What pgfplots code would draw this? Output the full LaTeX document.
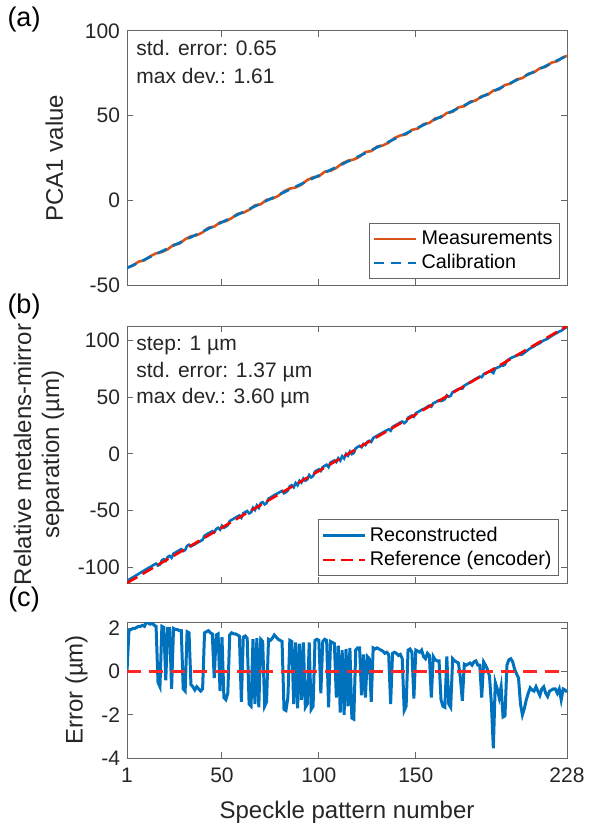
\documentclass[border=0pt]{standalone}
\usepackage{pgfplots}
\pgfplotsset{compat=1.18}
\usepackage{pgfplotstable}
\usepackage{fontspec}
\setmainfont{Liberation Sans}
\definecolor{mblue}{rgb}{0,0.447,0.741}
\definecolor{morange}{rgb}{0.85,0.325,0.098}
\definecolor{axgray}{gray}{0.15}

\pgfplotstableread{
n ref err
1 -114 0.0
2 -113 1.9
3 -112 1.95
4 -111 2.0
5 -110 2.0
6 -109 2.05
7 -108 2.1
8 -107 2.1
9 -106 2.15
10 -105 2.1
11 -104 2.3
12 -103 2.25
13 -102 2.2
14 -101 2.25
15 -100 2.15
16 -99 2.1
17 -98 -0.5
18 -97 -0.7
19 -96 2.1
20 -95 2.05
21 -94 -0.4
22 -93 2.0
23 -92 2.0
24 -91 -0.8
25 -90 2.0
26 -89 1.95
27 -88 1.95
28 -87 1.9
29 -86 1.9
30 -85 -0.8
31 -84 -0.9
32 -83 1.85
33 -82 1.8
34 -81 -0.6
35 -80 -0.7
36 -79 -0.85
37 -78 -0.7
38 -77 -0.8
39 -76 -0.9
40 -75 -0.8
41 -74 1.8
42 -73 1.85
43 -72 1.9
44 -71 1.8
45 -70 1.75
46 -69 -0.3
47 -68 1.7
48 -67 1.75
49 -66 -0.9
50 -65 1.6
51 -64 -1.2
52 -63 -1.3
53 -62 -1.0
54 -61 1.7
55 -60 1.8
56 -59 1.75
57 -58 1.75
58 -57 1.7
59 -56 1.65
60 -55 -1.4
61 -54 1.6
62 -53 1.65
63 -52 1.55
64 -51 -1.5
65 -50 -1.6
66 -49 1.5
67 -48 -1.5
68 -47 1.55
69 -46 -1.65
70 -45 1.5
71 -44 1.4
72 -43 -1.6
73 -42 -1.4
74 -41 1.5
75 -40 1.45
76 -39 1.55
77 -38 1.7
78 -37 1.6
79 -36 1.5
80 -35 1.45
81 -34 1.4
82 -33 -1.75
83 -32 -1.8
84 -31 -1.2
85 -30 1.45
86 -29 1.4
87 -28 -1.5
88 -27 1.35
89 -26 -1.7
90 -25 1.3
91 -24 -1.3
92 -23 1.35
93 -22 -1.65
94 -21 -1.5
95 -20 1.35
96 -19 -1.75
97 -18 -1.6
98 -17 1.45
99 -16 1.5
100 -15 1.45
101 -14 -1.0
102 -13 1.4
103 -12 1.5
104 -11 1.45
105 -10 -1.65
106 -9 1.4
107 -8 1.35
108 -7 1.3
109 -6 -1.2
110 -5 1.2
111 -4 -1.9
112 -3 1.0
113 -2 -2.0
114 -1 1.05
115 0 -1.6
116 1 1.1
117 2 -2.15
118 3 -2.2
119 4 1.0
120 5 1.1
121 6 1.1
122 7 -1.1
123 8 0.8
124 9 -1.2
125 10 0.7
126 11 0.6
127 12 -1.4
128 13 1.1
129 14 1.05
130 15 1.1
131 16 1.05
132 17 1.0
133 18 0.95
134 19 0.85
135 20 0.9
136 21 0.8
137 22 -1.5
138 23 0.85
139 24 0.9
140 25 0.85
141 26 0.75
142 27 0.8
143 28 0.6
144 29 -1.8
145 30 -1.6
146 31 1.0
147 32 1.05
148 33 0.9
149 34 -1.25
150 35 1.0
151 36 0.95
152 37 0.9
153 38 1.0
154 39 0.7
155 40 0.6
156 41 0.85
157 42 0.75
158 43 -1.2
159 44 0.7
160 45 0.55
161 46 0.5
162 47 0.5
163 48 -1.3
164 49 -1.6
165 50 -1.65
166 51 0.7
167 52 -1.5
168 53 -1.65
169 54 0.6
170 55 0.5
171 56 0.45
172 57 0.4
173 58 -0.3
174 59 -1.35
175 60 0.35
176 61 0.3
177 62 0.35
178 63 0.4
179 64 0.3
180 65 0.45
181 66 0.5
182 67 0.3
183 68 0.3
184 69 -1.2
185 70 0.45
186 71 0.3
187 72 0.1
188 73 -0.2
189 74 -1.5
190 75 -3.55
191 76 -0.5
192 77 -0.8
193 78 -1.2
194 79 -0.7
195 80 -2.1
196 81 -2.05
197 82 0.3
198 83 0.55
199 84 0.6
200 85 0.45
201 86 0.1
202 87 -0.1
203 88 -0.3
204 89 -1.5
205 90 -2.0
206 91 -1.7
207 92 -1.3
208 93 -1.0
209 94 -0.75
210 95 -0.85
211 96 -0.9
212 97 -0.7
213 98 -0.9
214 99 -1.1
215 100 -0.8
216 101 -0.7
217 102 -1.0
218 103 -1.15
219 104 -0.9
220 105 -0.85
221 106 -0.8
222 107 -0.8
223 108 -1.0
224 109 -0.8
225 110 -1.3
226 111 -0.8
227 112 -0.85
228 113 -0.95
}\errtable

\pgfplotstableread{
n meas
1 -39.8
4 -38.6
7 -36.2
10 -35.4
13 -33.0
16 -31.3
19 -30.5
22 -28.9
25 -26.3
28 -25.6
31 -23.0
34 -21.2
37 -20.6
40 -18.9
43 -16.2
46 -15.5
49 -13.0
52 -12.3
55 -10.5
58 -8.0
61 -7.3
64 -5.6
67 -3.0
70 -2.3
73 0.3
76 1.0
79 2.6
82 5.3
85 6.9
88 7.6
91 9.3
94 12.0
97 13.6
100 14.2
103 16.9
106 17.5
109 19.2
112 21.8
115 23.4
118 24.1
121 25.8
124 28.5
127 29.1
130 31.7
133 32.4
136 34.1
139 36.8
142 38.3
145 39.0
148 41.6
151 42.4
154 45.0
157 45.7
160 48.3
163 49.0
166 51.6
169 52.3
172 54.9
175 55.6
178 58.2
181 59.0
184 61.5
187 62.3
190 64.8
193 65.6
196 68.1
199 69.0
202 71.4
205 72.2
208 74.7
211 75.6
214 78.0
217 78.9
220 81.3
223 82.2
226 84.5
228 85.3
}\meastable

\pgfplotsset{
  common/.style={
    scale only axis, width=220pt,
    xmin=1, xmax=228, xtick={1,50,100,150,228},
    tick align=inside, xtick pos=both, ytick pos=both,
    major tick length=3pt,
    axis line style={black!60, line width=0.5pt},
    every tick/.style={black!60, line width=0.5pt},
    tick label style={font=\fontsize{10.5}{12}\selectfont, text=axgray},
    label style={font=\fontsize{12}{14}\selectfont, text=axgray},
    /pgf/number format/assume math mode=true,
    legend style={font=\fontsize{9.9}{11.5}\selectfont, draw=black!60, line width=0.5pt,
      inner sep=1.5pt, row sep=-0.5pt, text=black},
    legend cell align=left,
    legend image code/.code={\draw[##1] (0pt,0pt) -- (21pt,0pt);},
  }
}

\begin{document}
\begin{tikzpicture}
\path[use as bounding box] (0pt,0pt) rectangle (304.5pt,-414.5pt);

% (a)
\begin{axis}[common, at={(63.5pt,-15.5pt)}, anchor=north west, height=127pt,
  ymin=-50, ymax=100, ytick={-50,0,50,100}, xticklabels={},
  ylabel={PCA1 value}, ylabel style={yshift=4pt},
  legend style={at={(1,0)}, anchor=south east, xshift=-3.5pt, yshift=3pt}]
\addplot[morange, line width=1.3pt] table[x=n, y=meas] {\meastable};
\addlegendentry{Measurements}
\addplot[mblue, line width=1.3pt, dash pattern=on 5pt off 3.5pt] coordinates {(1,-40) (228,85.4)};
\addlegendentry{Calibration}
\end{axis}

% (b)
\begin{axis}[common, at={(63.5pt,-163pt)}, anchor=north west, height=128.5pt,
  ymin=-114, ymax=113, ytick={-100,-50,0,50,100}, xticklabels={},
  ylabel={Relative metalens-mirror\\separation (µm)}, ylabel style={align=center},
  legend style={at={(1,0)}, anchor=south east, xshift=-4pt, yshift=3.5pt}]
\addplot[mblue, line width=1.3pt] table[x=n, y expr=\thisrow{ref}+\thisrow{err}] {\errtable};
\addlegendentry{Reconstructed}
\addplot[red, line width=1.3pt, dash pattern=on 6pt off 3pt] coordinates {(1,-114) (228,113)};
\addlegendentry{Reference (encoder)}
\end{axis}

% (c)
\begin{axis}[common, at={(63.5pt,-311pt)}, anchor=north west, height=68pt,
  ymin=-4, ymax=2.3, ytick={-4,-2,0,2},
  xticklabel style={yshift=-1.5pt},
  xlabel={Speckle pattern number}, xlabel style={yshift=-2pt},
  ylabel={Error (µm)}]
\addplot[mblue, line width=1.5pt] table[x=n, y=err] {\errtable};
\addplot[red!85!white, line width=1.3pt, dash pattern=on 7pt off 4pt] coordinates {(1,0) (228,0)};
\end{axis}

\node[anchor=west, inner sep=0pt, font=\fontsize{10.5}{12}\selectfont, text=axgray] at (68pt,-24pt) {std. error: 0.65};
\node[anchor=west, inner sep=0pt, font=\fontsize{10.5}{12}\selectfont, text=axgray] at (68pt,-38pt) {max dev.: 1.61};
\node[anchor=west, inner sep=0pt, font=\fontsize{10.5}{12}\selectfont, text=axgray] at (68pt,-172.5pt) {step: 1 µm};
\node[anchor=west, inner sep=0pt, font=\fontsize{10.5}{12}\selectfont, text=axgray] at (68pt,-186pt) {std. error: 1.37 µm};
\node[anchor=west, inner sep=0pt, font=\fontsize{10.5}{12}\selectfont, text=axgray] at (68pt,-199pt) {max dev.: 3.60 µm};

\node[font=\fontsize{13.5}{15}\selectfont] at (12pt,-10pt) {(a)};
\node[font=\fontsize{13.5}{15}\selectfont] at (12pt,-153.5pt) {(b)};
\node[font=\fontsize{13.5}{15}\selectfont] at (12pt,-300pt) {(c)};
\end{tikzpicture}
\end{document}
